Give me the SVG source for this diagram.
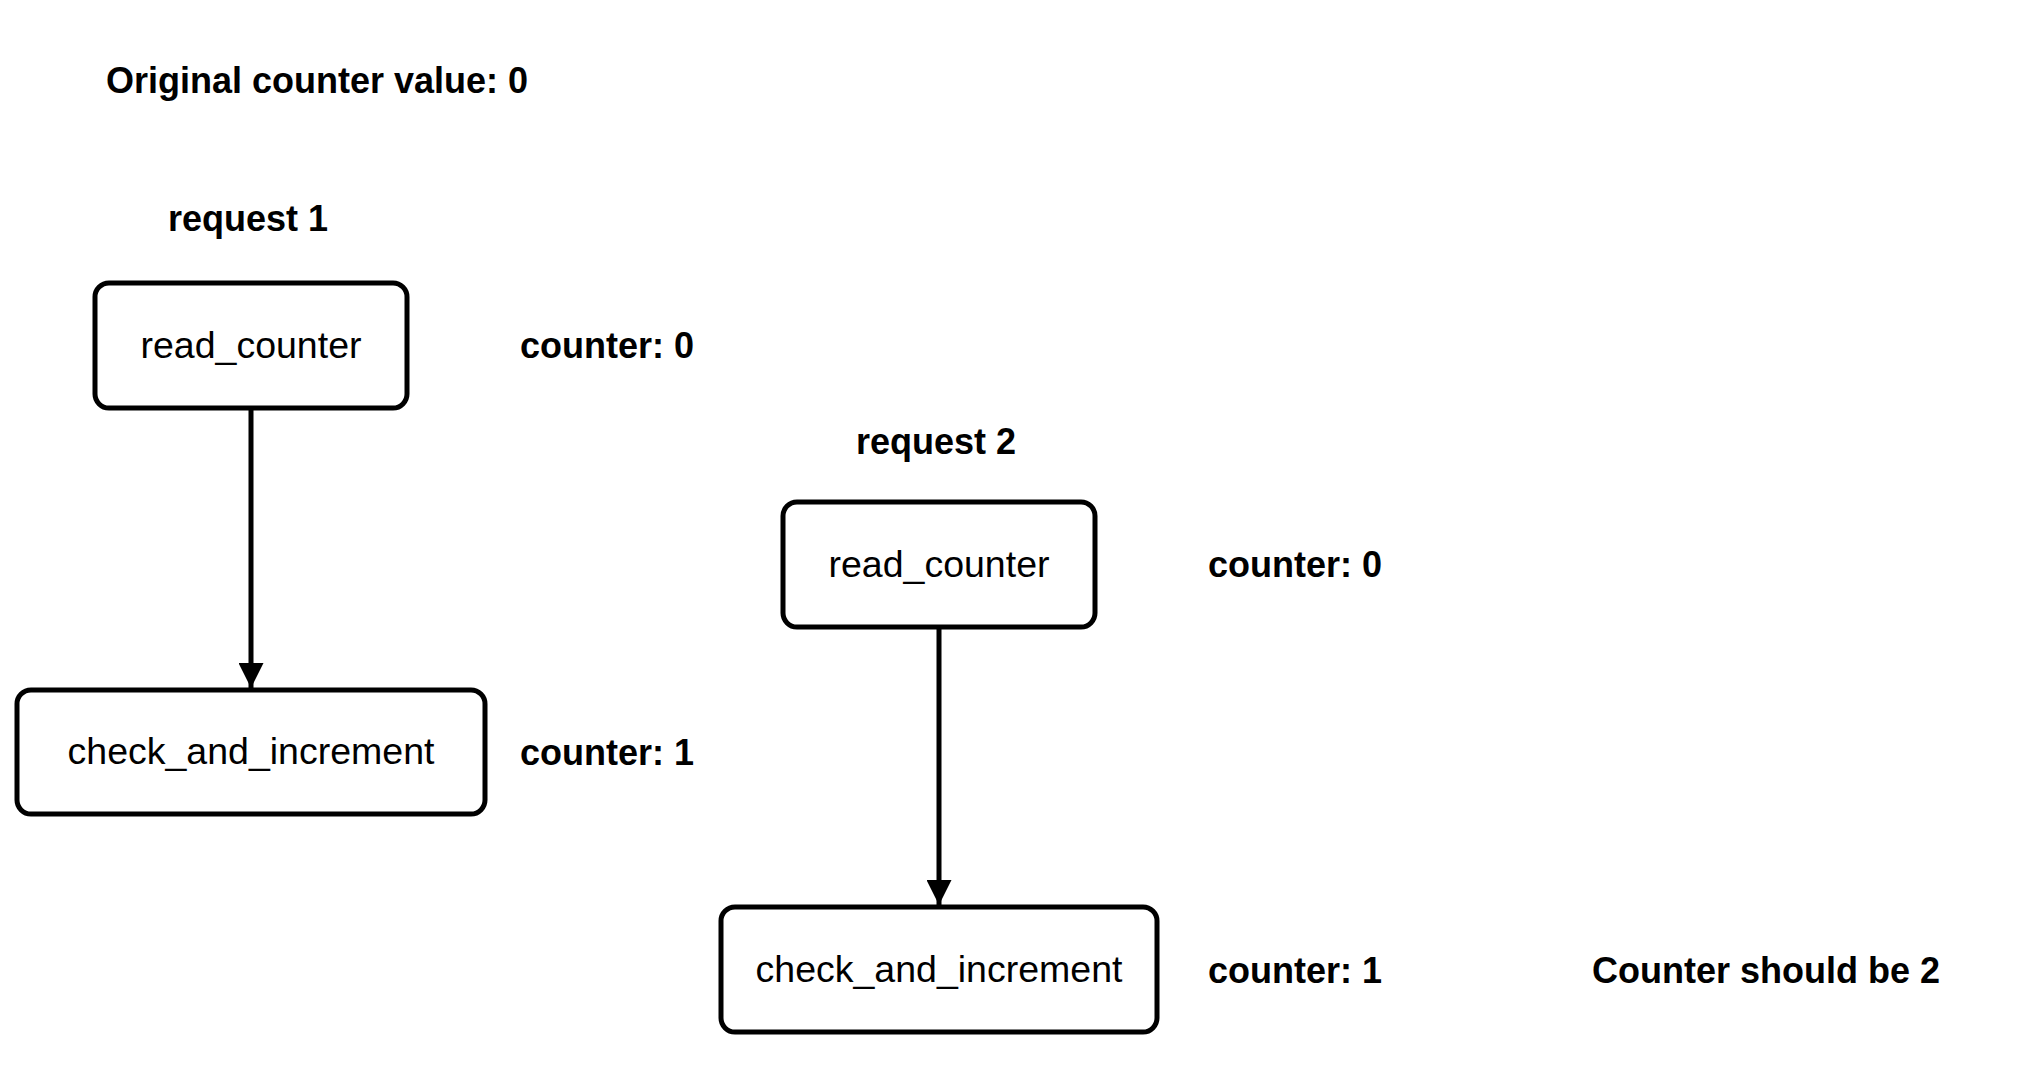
<svg xmlns="http://www.w3.org/2000/svg" width="2034" height="1066" viewBox="0 0 2034 1066">
  <defs>
    <marker id="arrow" viewBox="0 0 10 10" refX="10" refY="5" markerWidth="5" markerHeight="5" orient="auto" markerUnits="strokeWidth">
      <path d="M0,0 L10,5 L0,10 z" fill="#000"/>
    </marker>
  </defs>
  <style>
    .node rect { fill: #fff; stroke: #000; stroke-width: 5; }
    .node text { font-family: "Liberation Sans", Arial, sans-serif; font-size: 37.5px; fill: #000; text-anchor: middle; }
    .lbl { font-family: "Liberation Sans", Arial, sans-serif; font-size: 36px; font-weight: bold; fill: #000; }
    .edge { stroke: #000; stroke-width: 5; fill: none; }
  </style>
  <rect width="2034" height="1066" fill="#fff"/>

  <text class="lbl" x="106" y="93">Original counter value: 0</text>
  <text class="lbl" x="168" y="231">request 1</text>
  <text class="lbl" x="856" y="454">request 2</text>
  <text class="lbl" x="520" y="358">counter: 0</text>
  <text class="lbl" x="520" y="765">counter: 1</text>
  <text class="lbl" x="1208" y="577">counter: 0</text>
  <text class="lbl" x="1208" y="983">counter: 1</text>
  <text class="lbl" x="1592" y="983">Counter should be 2</text>

  <g id="connectors">
    <line class="edge" x1="251" y1="409" x2="251" y2="688" marker-end="url(#arrow)"/>
    <line class="edge" x1="939" y1="628" x2="939" y2="905" marker-end="url(#arrow)"/>
  </g>

  <g id="n1" class="node">
    <rect x="95" y="283" width="312" height="125" rx="14"/>
    <text x="251" y="358">read_counter</text>
  </g>
  <g id="n2" class="node">
    <rect x="17" y="690" width="468" height="124" rx="14"/>
    <text x="251" y="764">check_and_increment</text>
  </g>
  <g id="n3" class="node">
    <rect x="783" y="502" width="312" height="125" rx="14"/>
    <text x="939" y="577">read_counter</text>
  </g>
  <g id="n4" class="node">
    <rect x="721" y="907" width="436" height="125" rx="14"/>
    <text x="939" y="982">check_and_increment</text>
  </g>
</svg>
